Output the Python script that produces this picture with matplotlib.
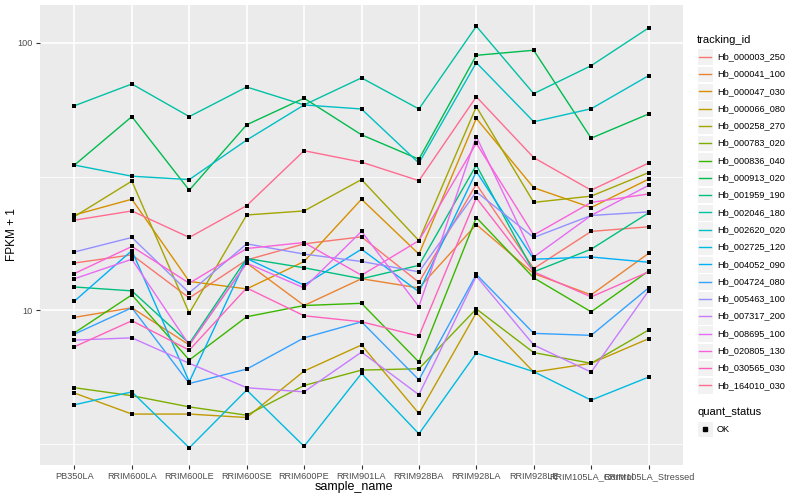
import numpy as np
import matplotlib
matplotlib.use('Agg')
import matplotlib.pyplot as plt
from matplotlib.lines import Line2D
from matplotlib.patches import Rectangle
from matplotlib.ticker import NullLocator

plt.rcParams['font.family'] = ['Liberation Sans', 'DejaVu Sans']

# Sample order on the x axis.
samples = ['PB350LA', 'RRIM600LA', 'RRIM600LE', 'RRIM600SE', 'RRIM600PE',
           'RRIM901LA', 'RRIM928BA', 'RRIM928LA', 'RRIM928LE',
           'RRIM105LA_Control', 'RRIM105LA_Stressed']

# FPKM + 1 per transcript.
hb_000003_250 = [15.0, 16.1, 11.1, 15.4, 17.7, 18.8, 12.7, 29.6, 14.3, 19.7, 20.5]
hb_000041_100 = [9.39, 10.2, 7.40, 15.0, 10.4, 13.1, 12.1, 20.9, 13.7, 11.4, 16.3]
hb_000047_030 = [22.7, 26.0, 12.8, 12.0, 15.2, 26.0, 16.2, 52.2, 28.7, 24.2, 30.9]
hb_000066_080 = [4.89, 4.08, 4.08, 3.96, 5.91, 7.40, 4.10, 9.77, 5.86, 6.32, 7.81]
hb_000258_270 = [22.4, 30.4, 9.74, 22.7, 23.5, 30.8, 18.2, 57.7, 25.3, 26.7, 32.7]
hb_000783_020 = [5.12, 4.78, 4.34, 4.04, 5.22, 5.96, 6.03, 10.1, 6.93, 6.32, 8.42]
hb_000836_040 = [8.22, 11.4, 6.50, 9.44, 10.4, 10.6, 6.39, 22.2, 13.2, 9.85, 14.0]
hb_000913_020 = [34.9, 53.0, 28.1, 49.4, 62.1, 45.3, 36.7, 89.9, 93.9, 44.0, 54.2]
hb_001959_190 = [12.2, 11.8, 7.50, 15.6, 14.4, 13.1, 14.7, 34.9, 13.9, 16.9, 23.1]
hb_002046_180 = [58.2, 70.2, 53.0, 68.4, 58.6, 74.0, 56.6, 115.5, 64.6, 82.2, 113.8]
hb_002620_020 = [34.9, 31.7, 30.8, 43.3, 58.6, 56.6, 35.5, 84.4, 50.7, 56.7, 75.4]
hb_002725_120 = [4.42, 4.94, 3.05, 5.02, 3.09, 5.79, 3.44, 6.90, 5.88, 4.60, 5.61]
hb_004052_090 = [10.8, 16.7, 5.39, 15.6, 12.4, 16.9, 11.7, 33.0, 15.5, 15.8, 15.1]
hb_004724_080 = [8.13, 10.2, 5.31, 6.01, 7.87, 9.04, 5.48, 13.6, 8.18, 8.04, 12.1]
hb_005463_100 = [16.5, 18.7, 11.6, 17.7, 16.2, 15.2, 13.9, 27.7, 18.7, 22.6, 23.3]
hb_007317_200 = [7.72, 7.87, 6.32, 5.12, 4.94, 6.96, 4.82, 13.4, 7.40, 5.86, 11.8]
hb_008695_100 = [13.1, 15.5, 7.40, 15.0, 12.1, 19.7, 10.3, 44.6, 15.8, 22.6, 29.3]
hb_020805_130 = [13.7, 17.3, 12.6, 17.0, 17.9, 13.5, 18.2, 42.1, 19.1, 25.3, 27.2]
hb_030565_030 = [7.29, 9.12, 7.08, 12.1, 9.52, 9.04, 7.99, 26.3, 13.9, 11.2, 13.9]
hb_164010_030 = [21.7, 23.5, 18.7, 24.6, 39.5, 35.8, 30.5, 62.9, 37.2, 28.1, 35.5]

tracking_ids = ['Hb_000003_250', 'Hb_000041_100', 'Hb_000047_030', 'Hb_000066_080',
                'Hb_000258_270', 'Hb_000783_020', 'Hb_000836_040', 'Hb_000913_020',
                'Hb_001959_190', 'Hb_002046_180', 'Hb_002620_020', 'Hb_002725_120',
                'Hb_004052_090', 'Hb_004724_080', 'Hb_005463_100', 'Hb_007317_200',
                'Hb_008695_100', 'Hb_020805_130', 'Hb_030565_030', 'Hb_164010_030']
series = [hb_000003_250, hb_000041_100, hb_000047_030, hb_000066_080, hb_000258_270,
          hb_000783_020, hb_000836_040, hb_000913_020, hb_001959_190, hb_002046_180,
          hb_002620_020, hb_002725_120, hb_004052_090, hb_004724_080, hb_005463_100,
          hb_007317_200, hb_008695_100, hb_020805_130, hb_030565_030, hb_164010_030]

# ggplot2 default hue palette for 20 groups
colors = ['#F8766D', '#EA8331', '#D89000', '#C09B00', '#A3A500', '#7CAE00', '#39B600',
          '#00BB4E', '#00BF7D', '#00C1A3', '#00BFC4', '#00BAE0', '#00B0F6', '#35A2FF',
          '#9590FF', '#C77CFF', '#E76BF3', '#FA62DB', '#FF62BC', '#FF6C91']

W, H = 800, 500
def fx(px):
    return px / W
def fy(py):
    return 1 - py / H

fig = plt.figure(figsize=(8, 5), dpi=100)
ax = fig.add_axes([fx(40), fy(465), (683 - 40) / W, (465 - 5) / H])
ax.set_facecolor('#EBEBEB')
for s in ax.spines.values():
    s.set_visible(False)

x = np.arange(1, len(samples) + 1)

# grid (ggplot style)
for v in [10 ** 0.5, 10 ** 1.5]:
    ax.axhline(v, color='white', lw=0.6, zorder=0)
for v in [10, 100]:
    ax.axhline(v, color='white', lw=1.2, zorder=0)
for xi in x:
    ax.axvline(xi, color='white', lw=1.2, zorder=0)

for vals, c in zip(series, colors):
    ax.plot(x, vals, color=c, lw=1.0, zorder=2)
for vals in series:
    ax.scatter(x, vals, marker='s', s=8, color='black', linewidths=0, zorder=3)

ax.set_yscale('log')
ax.set_xlim(0.4, 11.6)
ax.set_ylim(2.63, 138.7)
ax.set_yticks([10, 100])
ax.set_yticklabels(['10', '100'])
ax.yaxis.set_minor_locator(NullLocator())
ax.set_xticks(x)
ax.set_xticklabels(samples)
ax.tick_params(axis='both', length=3, width=0.8, color='#333333',
               labelsize=6.6, labelcolor='#4D4D4D', pad=2)

fig.text(fx(354), fy(487), 'sample_name', ha='center', va='center', fontsize=9)
fig.text(fx(12), fy(235), 'FPKM + 1', ha='center', va='center', fontsize=8.5, rotation=90)

# legend: tracking_id
fig.text(fx(697), fy(40), 'tracking_id', ha='left', va='center', fontsize=8)
for i, (name, c) in enumerate(zip(tracking_ids, colors)):
    yc = 56.7 + i * 17.3
    fig.add_artist(Rectangle((fx(697), fy(yc + 8.3)), 16 / W, 16.6 / H,
                             transform=fig.transFigure, facecolor='#F2F2F2',
                             edgecolor='white', lw=0.8))
    fig.add_artist(Line2D([fx(699), fx(711)], [fy(yc), fy(yc)],
                          transform=fig.transFigure, color=c, lw=1.0))
    fig.text(fx(717), fy(yc), name, ha='left', va='center', fontsize=6.6)

# legend: quant_status
fig.text(fx(697), fy(412), 'quant_status', ha='left', va='center', fontsize=8)
fig.add_artist(Rectangle((fx(697), fy(429 + 8.3)), 16 / W, 16.6 / H,
                         transform=fig.transFigure, facecolor='#F2F2F2',
                         edgecolor='white', lw=0.8))
fig.add_artist(Line2D([fx(705)], [fy(429)], transform=fig.transFigure,
                      marker='s', markersize=2.8, color='black', lw=0))
fig.text(fx(717), fy(429), 'OK', ha='left', va='center', fontsize=6.6)

fig.savefig('out.png', dpi=100)
